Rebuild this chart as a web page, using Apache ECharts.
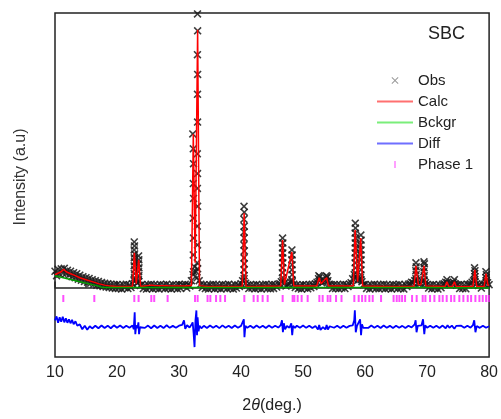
<!DOCTYPE html>
<html>
<head>
<meta charset="utf-8">
<script src="https://cdn.jsdelivr.net/npm/echarts@6/dist/echarts.min.js"></script>
<style>
html,body{margin:0;padding:0;background:#fff;}
#chart{width:501px;height:419px;}
</style>
</head>
<body>
<div id="chart"></div>
<script>
// ---- Data (intensity in arbitrary units) ----
// Observed background band sampled on a regular 2θ grid (10.00, 10.25, ... 80.00)
const obsStart = 10, obsStep = 0.25;
const obsBase = [
  165,120,185,135,190,145,195,140,175,125,165,110,150,100,140,85,125,75,110,62,
  100,55,92,45,80,35,70,25,62,18,52,10,45,5,40,0,35,-5,32,-8,
  32,-8,25,-15,30,-2,35,-10,28,0,40,70,75,45,60,20,32,-10,25,-15,
  30,-5,35,-12,28,-8,25,-15,32,-2,30,-10,35,-8,22,-15,30,-5,28,-12,
  32,-8,30,20,35,-5,30,15,70,130,210,160,190,70,35,0,30,-10,25,-15,
  30,-5,35,-12,28,-8,25,-15,32,-2,30,-10,35,-8,22,-15,30,-5,28,10,
  40,70,90,45,25,-10,30,-5,28,-12,32,-8,25,-15,30,-2,35,-10,28,-12,
  32,-8,30,5,35,40,60,70,45,15,30,35,55,60,35,0,30,-10,25,-15,
  30,-5,28,-12,32,-2,35,10,40,55,90,70,50,55,65,95,70,35,28,-10,
  32,-8,30,-12,28,-5,35,-10,30,10,35,50,90,130,110,70,80,100,60,30,
  32,-8,25,-15,30,-2,35,-10,28,-12,30,-5,35,-12,28,-8,25,-15,32,-2,
  30,-10,35,-8,22,-15,30,10,35,40,55,50,70,65,45,40,45,60,70,50,
  30,-5,28,-12,32,-8,25,-15,30,-2,35,40,55,50,35,30,45,55,40,25,
  30,-10,35,-8,28,-12,32,30,40,55,70,60,40,20,30,-5,30,35,55,50,
  30
];
// Observed points on the Bragg peaks [2θ, intensity]
const obsPeaks = [
  [22.78,460],[22.82,420],[22.76,380],[22.84,340],[22.78,300],[22.82,260],[22.76,220],[22.84,180],[22.78,140],[22.82,100],
  [23.48,320],[23.52,280],[23.46,240],[23.54,200],[23.48,160],[23.52,120],[23.46,80],
  [32.98,2760],[33.0,2590],[32.97,2350],[33.0,2150],[32.98,1950],[32.99,1670],[32.22,1550],
  [32.3,1400],[32.95,1350],[32.33,1250],[32.98,1150],[32.3,1050],[32.96,1000],[32.34,900],[32.99,820],
  [32.3,700],[32.95,620],[32.33,500],[32.98,430],[32.3,330],[32.95,250],[32.35,160],[32.92,100],
  [40.48,820],[40.52,760],[40.46,690],[40.52,620],[40.48,560],[40.5,500],[40.46,430],[40.53,370],[40.48,300],[40.52,240],[40.47,180],[40.5,120],
  [46.7,500],[46.74,450],[46.68,400],[46.73,350],[46.69,300],[46.74,250],[46.7,200],[46.67,150],[46.73,100],
  [48.2,380],[48.24,330],[48.18,280],[48.23,230],[48.2,180],[48.24,130],[48.18,80],
  [52.55,120],[52.7,110],[53.75,120],[53.9,110],
  [58.42,650],[58.45,600],[58.4,550],[58.46,500],[58.41,450],[58.45,400],[58.4,350],[58.44,300],[58.4,250],[58.46,200],[58.42,150],[58.4,100],
  [59.32,530],[59.36,480],[59.3,430],[59.35,380],[59.31,330],[59.36,280],[59.3,230],[59.34,180],[59.3,130],[59.35,80],
  [68.2,250],[68.25,210],[68.18,170],[68.24,130],[68.2,90],
  [69.5,260],[69.56,240],[69.52,200],[69.46,160],[69.54,120],[69.5,80],
  [73.2,80],[74.4,80],
  [77.65,200],[77.72,170],[77.66,140],[77.72,110],[77.68,80],
  [79.48,160],[79.55,130],[79.5,100],[79.52,70]
];
// Calculated profile [2θ, intensity]
const calcPts = [
  [10,130],[10.5,145],[11,160],[11.4,185],[11.8,160],[12.5,140],[13,128],[14,100],[15,80],[16,60],[17,40],[18,25],[19,15],[20,10],[22.5,12],
  [22.8,350],[23.1,40],[23.5,280],[23.8,12],
  [25.5,25],[25.6,12],[26.0,22],[26.1,12],[28.2,18],[28.3,10],
  [31.0,15],[32.0,20],[32.3,1550],[32.6,250],[33.0,2600],[33.3,20],[34.5,10],[40.2,12],
  [40.5,750],[40.8,12],[42,10],[46.4,15],
  [46.7,480],[47.0,30],[48.2,360],[48.5,15],[52.2,15],[52.6,100],[52.9,40],[53.2,35],[53.8,100],[54.1,15],
  [58.1,15],[58.4,580],[58.8,60],[59.3,500],[59.6,15],[64,10],[67.9,12],[68.2,220],[68.6,30],[69.0,30],[69.5,220],[69.8,15],
  [72.9,12],[73.2,60],[73.5,12],[74.1,12],[74.4,60],[74.7,12],[77.4,12],[77.7,180],[78.0,12],[79.2,12],[79.5,140],[79.8,30],[80,20]
];
// Background [2θ, intensity]
const bckgrPts = [
  [10,120],[11,105],[12,90],[13,75],[14,60],[15,45],[16,30],[17,15],[17.7,0],[30,0],[40,0],[50,0],[60,0],[70,0],[80,-5]
];
// Difference curve (offset) [2θ, intensity]
const diffPts = [
  [10,-330],[10.25,-290],[10.5,-355],[10.75,-300],[11,-345],[11.25,-295],[11.5,-350],[11.75,-310],[12,-355],[12.25,-320],[12.5,-360],[12.75,-325],[13,-370],[13.3,-340],[13.6,-385],[14,-370],[14.4,-420],[14.8,-385],[15.2,-425],[15.6,-390],[16,-412],[16.5,-385],[17,-410],[17.5,-382],[18,-408],[18.5,-384],[19,-410],[19.5,-380],[20,-405],[20.5,-383],[21,-408],[21.5,-385],[22,-405],[22.5,-382],
  [22.7,-420],[22.85,-250],[22.95,-470],[23.1,-380],[23.3,-410],[23.45,-350],[23.55,-470],[23.7,-400],
  [24,-384],[24.5,-406],[25,-383],[25.5,-410],[26,-382],[26.5,-407],[27,-385],[27.5,-408],[28,-380],[28.5,-406],[29,-386],[29.5,-405],[30,-384],[30.5,-375],[30.8,-330],[31.0,-415],[31.3,-380],[31.7,-402],[32.0,-375],[32.2,-350],[32.35,-460],[32.5,-600],[32.65,-330],[32.8,-230],[32.9,-480],[33.0,-300],[33.15,-440],[33.3,-385],[33.6,-410],
  [34,-385],[34.5,-407],[35,-382],[35.5,-404],[36,-384],[36.5,-409],[37,-381],[37.5,-405],[38,-385],[38.5,-408],[39,-382],[39.5,-404],[40,-386],[40.3,-375],[40.45,-320],[40.55,-500],[40.7,-385],[41,-406],
  [41.5,-384],[42,-408],[42.5,-382],[43,-405],[43.5,-385],[44,-408],[44.5,-383],[45,-404],[45.5,-385],[46,-403],[46.4,-378],[46.6,-330],[46.75,-450],[46.9,-360],[47.1,-420],[47.4,-388],[47.8,-405],[48.1,-360],[48.25,-480],[48.4,-385],[48.7,-406],
  [49,-384],[49.5,-405],[50,-383],[50.5,-406],[51,-385],[51.5,-408],[52,-388],[52.4,-422],[52.6,-378],[52.8,-428],[53.2,-398],[53.6,-422],[53.8,-378],[54.0,-422],[54.3,-390],[55,-405],[55.5,-385],[56,-407],[56.5,-384],[57,-405],[57.5,-386],[58,-382],[58.25,-330],[58.35,-230],[58.5,-450],[58.7,-385],[59.0,-405],[59.2,-320],[59.35,-480],[59.5,-370],[59.7,-405],
  [60,-385],[60.5,-407],[61,-383],[61.5,-405],[62,-385],[62.5,-408],[63,-383],[63.5,-405],[64,-386],[64.5,-407],[65,-384],[65.5,-404],[66,-386],[66.5,-408],[67,-384],[67.5,-402],[68,-370],[68.15,-330],[68.3,-450],[68.5,-385],[68.8,-405],[69.1,-380],[69.35,-320],[69.55,-470],[69.7,-380],[70,-405],
  [70.5,-384],[71,-406],[71.5,-385],[72,-407],[72.5,-383],[73,-410],[73.3,-380],[73.6,-405],[74,-384],[74.4,-415],[74.7,-386],[75,-405],[75.5,-384],[76,-406],[76.5,-385],[77,-404],[77.4,-378],[77.6,-330],[77.8,-450],[78.0,-388],[78.5,-406],[79,-385],[79.5,-405],[80,-390]
];
// Bragg reflection positions (Phase 1)
const phaseTicks = [
  11.34,16.34,22.79,23.48,25.53,26.0,28.16,32.58,33.0,34.6,35.05,35.97,36.66,37.42,40.53,42.03,42.68,43.48,44.29,
  46.71,48.32,48.6,49.13,49.77,50.74,52.63,53.16,53.97,54.4,55.32,56.2,58.27,58.97,59.52,60.05,60.69,61.23,62.58,
  64.6,65.1,65.53,65.97,66.45,67.58,68.32,69.29,69.73,70.48,71.18,71.98,72.52,73.16,73.87,74.4,75.2,75.85,76.55,
  77.1,77.79,78.44,78.97,79.52,79.95
];
const phaseLevel = -110;
const xTickLabels = ['10','20','30','40','50','60','70','80'];

// ---- Build series data ----
const obsData = obsBase.map((v, i) => [obsStart + i * obsStep, v]).concat(obsPeaks);
const phaseData = phaseTicks.map(x => [x, phaseLevel]);

const FONT = 'Liberation Sans, Arial, Helvetica, sans-serif';
const xPath = 'path://M0,1.4L1.4,0L5,3.6L8.6,0L10,1.4L6.4,5L10,8.6L8.6,10L5,6.4L1.4,10L0,8.6L3.6,5Z';
const corners = 'M0,0L0.01,0L0,0.01Z M36,14L35.99,14L36,13.99Z ';
const xIcon = 'path://' + corners + 'M14.5,4.2L15.2,3.5L18,6.3L20.8,3.5L21.5,4.2L18.7,7L21.5,9.8L20.8,10.5L18,7.7L15.2,10.5L14.5,9.8L17.3,7Z';
const tickIcon = 'path://' + corners + 'M17,3.5L19,3.5L19,10.5L17,10.5Z';
const lineIcon = 'path://' + corners + 'M0,6L36,6L36,8L0,8Z';

const chart = echarts.init(document.getElementById('chart'), null, {renderer: 'canvas'});
chart.setOption({
  animation: false,
  backgroundColor: '#ffffff',
  textStyle: {fontFamily: FONT},
  title: {
    text: 'SBC', left: 428, top: 25, padding: 0,
    textStyle: {fontFamily: FONT, fontSize: 18, fontWeight: 'normal', color: '#222'}
  },
  legend: {
    orient: 'vertical', left: 377, top: 73, padding: 0,
    itemWidth: 36, itemHeight: 14, itemGap: 6,
    textStyle: {fontFamily: FONT, fontSize: 15, color: '#222'},
    selectedMode: false,
    data: [
      {name: 'Obs', icon: xIcon, itemStyle: {color: '#888'}},
      {name: 'Calc', icon: lineIcon, itemStyle: {color: '#ff7070'}},
      {name: 'Bckgr', icon: lineIcon, itemStyle: {color: '#7aee7a'}},
      {name: 'Diff', icon: lineIcon, itemStyle: {color: '#6f6fff'}},
      {name: 'Phase 1', icon: tickIcon, itemStyle: {color: '#ff88ff'}}
    ]
  },
  grid: {
    left: 55, right: 10, top: 13, bottom: 59,
    show: true, borderColor: '#222', borderWidth: 1.5, backgroundColor: 'transparent'
  },
  xAxis: {
    type: 'value', min: 10, max: 80, interval: 10,
    name: '2{i|θ}(deg.)', nameLocation: 'middle', nameGap: 41,
    nameTextStyle: {fontFamily: FONT, fontSize: 16, color: '#222',
      rich: {i: {fontFamily: FONT, fontSize: 16, fontStyle: 'italic', color: '#222'}}},
    axisLine: {show: true, lineStyle: {color: '#222', width: 1.5}},
    axisTick: {show: true, inside: true, length: 6, lineStyle: {color: '#222', width: 1.5}},
    minorTick: {show: true, splitNumber: 2, length: 4, lineStyle: {color: '#222', width: 1.5}},
    axisLabel: {fontFamily: FONT, fontSize: 16, color: '#222', margin: 8,
      formatter: (v) => { const s = String(Math.round(v)); return xTickLabels.indexOf(s) >= 0 ? s : ''; }},
    splitLine: {show: false}
  },
  yAxis: {
    type: 'value', min: -700, max: 2770,
    name: 'Intensity (a.u)', nameLocation: 'middle', nameGap: 26,
    nameTextStyle: {fontFamily: FONT, fontSize: 16, color: '#333', padding: [0, 0, 0, 16]},
    axisLine: {show: false}, axisTick: {show: false}, axisLabel: {show: false}, splitLine: {show: false}
  },
  series: [
    {name: 'Obs', type: 'scatter', data: obsData, symbol: xPath, symbolSize: 8,
      itemStyle: {color: '#1a1a1a', opacity: 0.85}, z: 2},
    {name: 'Calc', type: 'line', data: calcPts, symbol: 'none', lineStyle: {color: '#ff0000', width: 1.5},
      itemStyle: {color: '#ff0000'}, z: 3},
    {name: 'Bckgr', type: 'line', data: bckgrPts, symbol: 'none', lineStyle: {color: '#00a000', width: 1.5},
      itemStyle: {color: '#00a000'}, z: 4},
    {name: 'Diff', type: 'line', data: diffPts, symbol: 'none', lineStyle: {color: '#0000ff', width: 1.8},
      itemStyle: {color: '#0000ff'}, z: 3},
    {name: 'Phase 1', type: 'scatter', data: phaseData, symbol: 'rect', symbolSize: [2, 7],
      itemStyle: {color: '#ff22ff'}, z: 3}
  ]
});
</script>
</body>
</html>
